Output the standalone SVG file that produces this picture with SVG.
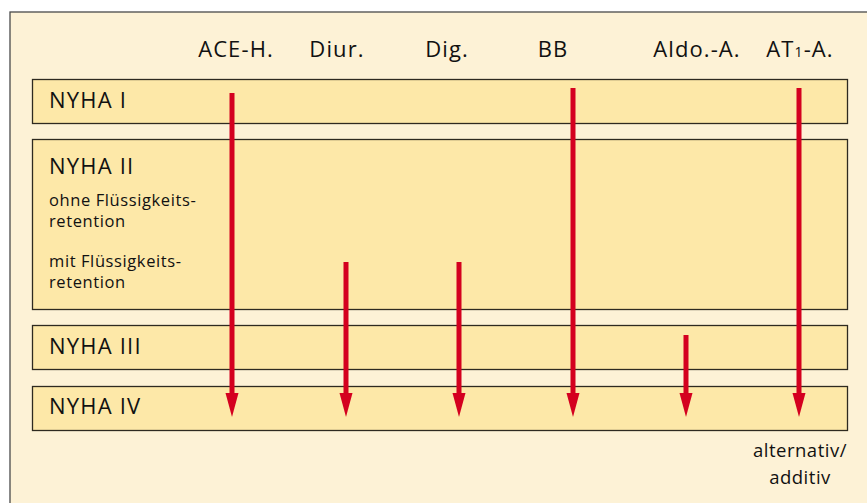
<svg xmlns="http://www.w3.org/2000/svg" width="867" height="503" viewBox="0 0 867 503">
<defs>
<style>
.frame{fill:#fdf2d6;stroke:#4a4a4a;stroke-width:1.3}
.box{fill:#fde8a8;stroke:#2e2a20;stroke-width:1.3}
text{font-family:"Open Sans","Noto Sans","DejaVu Sans",sans-serif;fill:#111}
.hd{font-size:22px;letter-spacing:1.1px;text-anchor:middle}
.lb{font-size:22px;letter-spacing:1.2px}
.sm{font-size:16.5px;letter-spacing:0.6px}
.nt{font-size:18.5px;letter-spacing:0.5px;text-anchor:middle}
.arr{stroke:#d4001f;stroke-width:5;fill:none}
.head{fill:#d4001f}
</style>
</defs>
<rect class="frame" x="10" y="12" width="870" height="500"/>
<g id="headers">
<text class="hd" x="236" y="57">ACE-H.</text>
<text class="hd" x="337" y="57">Diur.</text>
<text class="hd" x="447" y="57">Dig.</text>
<text class="hd" x="553" y="57">BB</text>
<text class="hd" x="697" y="57">Aldo.-A.</text>
<text class="hd" x="800" y="57">AT<tspan font-size="14">1</tspan>-A.</text>
</g>
<g id="nyha1">
<rect class="box" x="32.5" y="79.5" width="815" height="44"/>
<text class="lb" x="49" y="108">NYHA I</text>
</g>
<g id="nyha2">
<rect class="box" x="32.5" y="139.5" width="815" height="170"/>
<text class="lb" x="49" y="174">NYHA II</text>
<text class="sm" x="49" y="206">ohne Flüssigkeits-</text>
<text class="sm" x="49" y="227">retention</text>
<text class="sm" x="49" y="267">mit Flüssigkeits-</text>
<text class="sm" x="49" y="288">retention</text>
</g>
<g id="nyha3">
<rect class="box" x="32.5" y="325.5" width="815" height="44"/>
<text class="lb" x="49" y="354">NYHA III</text>
</g>
<g id="nyha4">
<rect class="box" x="32.5" y="386.5" width="815" height="44"/>
<text class="lb" x="49" y="414">NYHA IV</text>
</g>
<g id="note">
<text class="nt" x="800" y="457">alternativ/</text>
<text class="nt" x="800" y="484">additiv</text>
</g>
<g id="connectors">
<line class="arr" x1="232" y1="93" x2="232" y2="396"/>
<path class="head" d="M225.5,393 L238.5,393 L232,417 Z"/>
<line class="arr" x1="346" y1="262" x2="346" y2="396"/>
<path class="head" d="M339.5,393 L352.5,393 L346,417 Z"/>
<line class="arr" x1="459" y1="262" x2="459" y2="396"/>
<path class="head" d="M452.5,393 L465.5,393 L459,417 Z"/>
<line class="arr" x1="573" y1="88" x2="573" y2="396"/>
<path class="head" d="M566.5,393 L579.5,393 L573,417 Z"/>
<line class="arr" x1="686" y1="335" x2="686" y2="396"/>
<path class="head" d="M679.5,393 L692.5,393 L686,417 Z"/>
<line class="arr" x1="799" y1="88" x2="799" y2="396"/>
<path class="head" d="M792.5,393 L805.5,393 L799,417 Z"/>
</g>
</svg>
